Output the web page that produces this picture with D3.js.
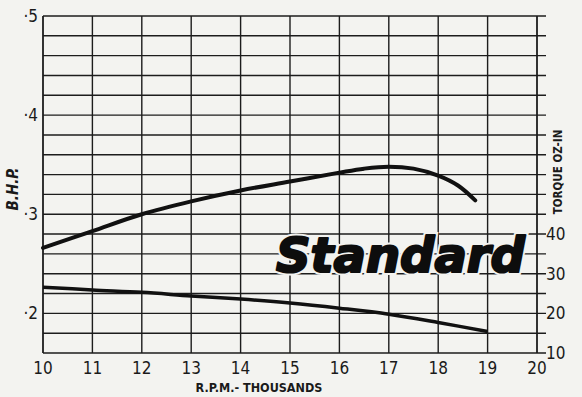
<!DOCTYPE html>
<html>
<head>
<meta charset="utf-8">
<script src="https://cdn.jsdelivr.net/npm/d3@7"></script>
<style>
    body { margin: 0; background: #f3f3f0; }
    svg { display: block; }
    text { fill: #1a1a1a; font-family: "DejaVu Sans Condensed", "DejaVu Sans", sans-serif; }
    text.title { font-family: "DejaVu Sans", sans-serif; font-size: 48px; font-weight: bold; font-style: italic; }
</style>
</head>
<body>
<div id="chart"></div>
<script>
// rpm in thousands
const rpmTicks = [10, 11, 12, 13, 14, 15, 16, 17, 18, 19, 20];
const bhpTicks = [0.2, 0.3, 0.4, 0.5];
const bhpTickLabels = ["·2", "·3", "·4", "·5"];
const torqueTicks = [10, 20, 30, 40];

// B.H.P. curve
const bhpRpm = [10, 11, 12, 13, 14, 15, 16, 16.5, 17, 17.5, 18, 18.4, 18.75];
const bhpValues = [0.266, 0.283, 0.300, 0.313, 0.324, 0.333, 0.342, 0.346, 0.348, 0.346, 0.339, 0.329, 0.314];

// torque curve (oz-in)
const torqueRpm = [10, 11, 12, 13, 14, 15, 16, 17, 18, 19];
const torqueValues = [26.6, 25.9, 25.3, 24.4, 23.6, 22.6, 21.3, 19.8, 17.7, 15.4];

const width = 582, height = 397;
const margin = { top: 16, right: 45, bottom: 44, left: 43 };

const svg = d3.select('#chart')
    .append('svg')
    .attr('width', width)
    .attr('height', height);

const x = d3.scaleLinear()
    .domain([10, 20])
    .range([margin.left, width - margin.right]);

const y = d3.scaleLinear()
    .domain([0.16, 0.5])
    .range([height - margin.bottom, margin.top]);

// torque shares the grid: 5 oz-in per 0.02 bhp line
const yT = d3.scaleLinear()
    .domain([10, 95])
    .range([height - margin.bottom, margin.top]);

const ink = '#1c1c1c';
const grid = svg.append('g');

// horizontal grid lines, every 0.02 bhp, with ticks past the right edge
const hLines = d3.range(0.16, 0.5001, 0.02);
grid.selectAll('.h')
    .data(hLines)
    .enter()
    .append('line')
    .attr('x1', x(10))
    .attr('x2', x(20) + 9)
    .attr('y1', d => y(d))
    .attr('y2', d => y(d))
    .attr('stroke', ink)
    .attr('stroke-width', 1.4);

grid.selectAll('.v')
    .data(rpmTicks)
    .enter()
    .append('line')
    .attr('x1', d => x(d))
    .attr('x2', d => x(d))
    .attr('y1', y(0.5))
    .attr('y2', y(0.16))
    .attr('stroke', ink)
    .attr('stroke-width', d => (d === 10 || d === 20) ? 1.8 : 1.4);

// bottom axis labels
svg.selectAll('.xl')
    .data(rpmTicks)
    .enter()
    .append('text')
    .attr('x', d => x(d))
    .attr('y', y(0.16) + 21)
    .attr('text-anchor', 'middle')
    .style('font-size', '17px')
    .text(d => d);

svg.append('text')
    .attr('x', 259)
    .attr('y', 392)
    .attr('text-anchor', 'middle')
    .style('font-size', '12.5px')
    .style('font-weight', 'bold')
    .text('R.P.M.- THOUSANDS');

// left axis labels
svg.selectAll('.yl')
    .data(bhpTicks)
    .enter()
    .append('text')
    .attr('x', margin.left - 5)
    .attr('y', d => y(d) + 6)
    .attr('text-anchor', 'end')
    .style('font-size', '17px')
    .text((d, i) => bhpTickLabels[i]);

svg.append('text')
    .attr('transform', `translate(18,189) rotate(-90)`)
    .attr('text-anchor', 'middle')
    .style('font-size', '15px')
    .style('font-weight', 'bold')
    .style('font-style', 'italic')
    .text('B.H.P.');

// right axis labels
svg.selectAll('.tl')
    .data(torqueTicks)
    .enter()
    .append('text')
    .attr('x', x(20) + 9)
    .attr('y', d => yT(d) + 6)
    .style('font-size', '17px')
    .text(d => d);

svg.append('text')
    .attr('transform', `translate(562,172) rotate(-90)`)
    .attr('text-anchor', 'middle')
    .style('font-size', '11.5px')
    .style('font-weight', 'bold')
    .text('TORQUE OZ-IN');

// curves
const bhpLine = d3.line()
    .x((d, i) => x(bhpRpm[i]))
    .y(d => y(d))
    .curve(d3.curveCatmullRom);

svg.append('path')
    .datum(bhpValues)
    .attr('d', bhpLine)
    .attr('fill', 'none')
    .attr('stroke', '#111')
    .attr('stroke-width', 4)
    .attr('stroke-linecap', 'round');

const torqueLine = d3.line()
    .x((d, i) => x(torqueRpm[i]))
    .y(d => yT(d))
    .curve(d3.curveCatmullRom);

svg.append('path')
    .datum(torqueValues)
    .attr('d', torqueLine)
    .attr('fill', 'none')
    .attr('stroke', '#111')
    .attr('stroke-width', 3.5);

// big title over the grid: white halo, then a heavier black face
const title = svg.append('g')
    .attr('transform', 'translate(276,272)');

title.append('text')
    .attr('class', 'title')
    .style('fill', '#f3f3f0')
    .style('stroke', '#f3f3f0')
    .style('stroke-width', '6px')
    .text('Standard');

title.append('text')
    .attr('class', 'title')
    .style('fill', '#0d0d0d')
    .style('stroke', '#0d0d0d')
    .style('stroke-width', '2.2px')
    .style('stroke-linejoin', 'round')
    .text('Standard');
</script>
</body>
</html>
